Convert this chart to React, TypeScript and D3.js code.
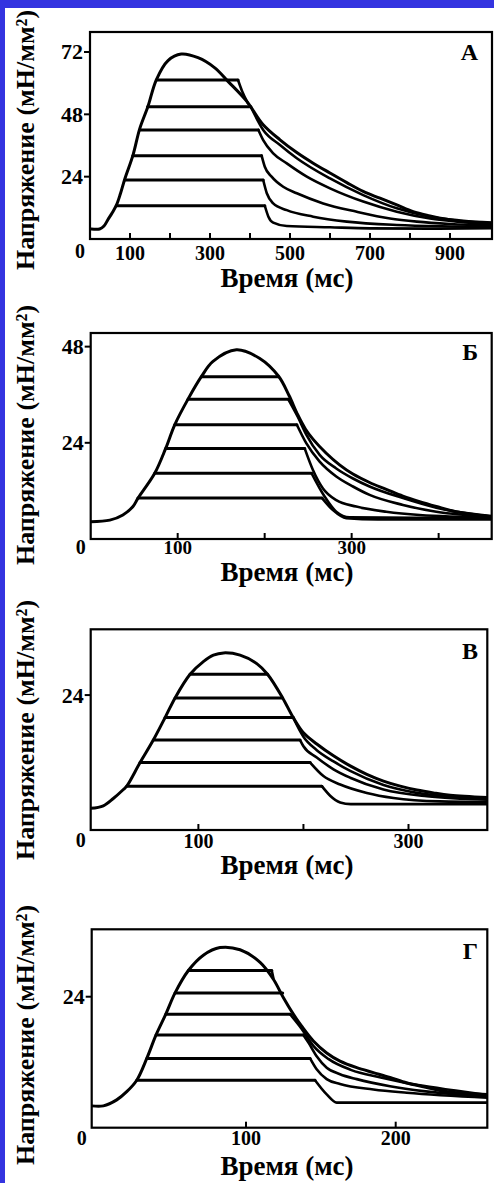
import React from "react";
import * as d3 from "d3";

type Pt = [number, number];

// ---------- Panel А ----------
const envA: Pt[] = [[3, 3.85], [24, 3.85], [35, 5.0], [45, 7.5], [56, 10.2], [66, 13.0], [76, 17.4], [87, 23.1], [107.5, 32.3], [124.2, 42.4], [145, 51.1], [165.8, 61.3], [195, 68.7], [228, 71.2], [270, 69.8], [312, 65.9], [345, 60.7], [392, 53.0], [433, 44.0], [475, 38.2], [517, 33.3], [558, 29.2], [600, 25.4], [642, 21.7], [683, 18.3], [725, 15.7], [767, 13.1], [808, 10.5], [850, 8.9], [892, 7.6], [933, 6.7], [1005, 6.3]];
const levelsA = [12.8, 22.7, 32.1, 42.0, 50.9, 61.2];
const startsA = [66, 87, 107, 124, 144, 166];
const endsA = [437, 433, 429, 421, 402, 370];
const relaxA: Pt[][] = [
  [[446, 8.6], [458, 6.3], [492, 5.0], [600, 4.5], [700, 4.1], [850, 4.0], [1005, 4.2]],
  [[442, 17.6], [458, 13.7], [492, 11.1], [558, 8.6], [642, 6.7], [767, 5.4], [880, 4.9], [1005, 4.7]],
  [[437, 27.8], [454, 24.0], [483, 20.1], [517, 17.6], [583, 13.7], [667, 10.5], [750, 7.9], [817, 6.7], [900, 5.8], [1005, 5.2]],
  [[433, 38.1], [458, 33.0], [492, 29.1], [542, 24.0], [600, 19.5], [683, 14.4], [767, 10.5], [850, 7.9], [933, 6.5], [1005, 5.6]],
  [[433, 42.0], [475, 36.2], [517, 31.1], [600, 23.3], [683, 16.9], [767, 11.8], [850, 8.6], [933, 7.0], [1005, 6.0]],
  [[380, 57.0], [395, 52.2]],
];
const xTicksA = [100, 200, 300, 400, 500, 600, 700, 800, 900];
const xLabelsA = [100, 300, 500, 700, 900];
const yTicksA = [24, 48, 72];

// ---------- Panel Б ----------
const envB: Pt[] = [[0, 4.3], [22, 4.7], [37, 6.0], [48.6, 8.1], [54.4, 10.2], [73.6, 16.4], [86.2, 22.6], [96.6, 28.5], [111.9, 34.9], [127.2, 40.5], [140.6, 44.3], [167.5, 47.2], [194, 45.1], [216, 40.6], [228, 35.8], [238, 31.0], [247, 27.4], [256, 24.8], [270.8, 21.4], [286.1, 18.5], [301.5, 16.2], [320.6, 14.1], [339.8, 12.4], [358.9, 10.7], [378.1, 9.3], [397.3, 8.1], [420.2, 6.8], [461, 5.7]];
const levelsB = [10.2, 16.4, 22.6, 28.5, 34.9, 40.5];
const startsB = [54.4, 73.6, 86.2, 96.6, 111.9, 127.2];
const endsB = [266, 254, 246, 237, 227, 216];
const relaxB: Pt[][] = [
  [[278.5, 7.2], [293.8, 5.2], [330, 4.9], [461, 4.9]],
  [[268.9, 10.6], [282.3, 6.8], [297.6, 5.4], [461, 5.2]],
  [[255.5, 17.2], [267, 12.6], [282.3, 9.7], [305.3, 8.1], [339.8, 6.8], [378.1, 6.0], [461, 5.4]],
  [[247.8, 23.9], [263.2, 19.3], [282.3, 15.6], [301.5, 13.1], [320.6, 11.0], [359, 8.5], [397.3, 6.8], [461, 5.6]],
  [[238, 30.5], [248, 26.0], [263.2, 21.0], [282.3, 17.6], [301.5, 15.1], [320.6, 13.1], [359, 10.2], [397.3, 7.8], [435.6, 6.3], [461, 5.6]],
  [],
];
const xTicksB = [100, 200, 300, 400];
const xLabelsB = [100, 300];
const yTicksB = [24, 48];

// ---------- Panel В ----------
const envC: Pt[] = [[-2.5, 3.85], [9.5, 4.3], [19, 5.6], [28.6, 7.2], [31.8, 7.8], [44.5, 12.0], [57.1, 16.0], [68.3, 20.0], [77.8, 23.5], [92.1, 27.7], [105, 30.0], [114.3, 31.1], [124, 31.5], [139.7, 31.1], [155.6, 29.6], [165.8, 27.7], [180.2, 23.5], [190.3, 20.0], [200, 17.3], [212.7, 15.3], [228.6, 13.2], [244.5, 11.4], [260.3, 9.9], [276.2, 8.7], [292.1, 7.8], [308, 7.1], [323.8, 6.6], [339.7, 6.2], [375, 5.8]];
const levelsC = [7.8, 12.0, 16.0, 20.0, 23.5, 27.7];
const startsC = [31.8, 44.5, 57.1, 68.3, 77.8, 92.1];
const endsC = [217.5, 206.4, 196.8, 190.3, 180.2, 165.8];
const relaxC: Pt[][] = [
  [[225.4, 6.1], [235, 4.9], [245, 4.6], [375, 4.6]],
  [[219, 9.6], [235, 8.1], [260.3, 6.6], [285.7, 5.7], [330, 5.1], [375, 5.0]],
  [[200, 14.9], [212.7, 12.9], [228.6, 10.8], [244.5, 9.3], [276.2, 7.2], [317.5, 6.0], [375, 5.4]],
  [[200, 16.6], [212.7, 14.2], [228.6, 12.2], [244.5, 10.5], [276.2, 8.0], [308, 6.6], [340, 5.9], [375, 5.6]],
  [],
  [],
];
const xTicksC = [100, 200, 300];
const xLabelsC = [100, 300];
const yTicksC = [24];

// ---------- Panel Г ----------
const envD: Pt[] = [[-3.1, 4.0], [4.7, 4.0], [13.6, 5.1], [20.3, 6.6], [27.0, 8.7], [33.7, 12.7], [39.9, 17.0], [46.4, 20.8], [52.6, 24.7], [61.5, 28.8], [71.5, 31.6], [82.6, 33.0], [96, 32.6], [109.4, 30.3], [118.3, 27.2], [125, 23.8], [131.6, 20.8], [137.2, 18.6], [145, 15.9], [153.9, 13.7], [162.8, 12.2], [174, 11.0], [185.1, 10.1], [196.2, 9.2], [207.4, 8.2], [218.5, 7.5], [229.6, 6.8], [240.8, 6.4], [261.2, 6.1]];
const levelsD = [8.7, 12.7, 17.0, 20.8, 24.7, 28.8];
const startsD = [27.0, 33.7, 39.9, 46.4, 52.6, 61.5];
const endsD = [146.1, 142.8, 138.3, 129.4, 124.5, 117.2];
const relaxD: Pt[][] = [
  [[153.9, 6.1], [160.6, 4.6], [261.2, 4.6]],
  [[147.2, 10.7], [153.9, 8.9], [162.8, 8.0], [185.1, 7.0], [207.4, 6.4], [261.2, 5.5]],
  [[141.7, 15.6], [147.2, 13.1], [153.9, 11.0], [162.8, 9.8], [174, 8.9], [196.2, 7.6], [218.5, 6.7], [240.8, 6.1], [261.2, 5.8]],
  [[137.2, 18.1], [145, 15.0], [155, 12.6], [170, 10.6], [190, 9.2], [215, 7.8], [240, 6.8], [261.2, 6.0]],
  [],
  [[118.3, 27.4]],
];
const xTicksD = [100, 200];
const xLabelsD = [100, 200];
const yTicksD = [24];

const letters = ["А", "Б", "В", "Г"];
const yTitle = "Напряжение (мН/мм²)";
const xTitle = "Время (мс)";

// ---------- layout ----------
const W = 494;
const H = 1183;
const FONT = '"Liberation Serif", "Times New Roman", Times, serif';

const panels = [
  { env: envA, levels: levelsA, starts: startsA, ends: endsA, relax: relaxA, xTicks: xTicksA, xLabels: xLabelsA, yTicks: yTicksA, xDomain: [0, 1005], yMax: 79.7, l: 90, t: 32, r: 492, b: 239, letterY: 60, titleY: 140, xTitleY: 287, labDy: 21, labFs: 20, zeroDy: 19 },
  { env: envB, levels: levelsB, starts: startsB, ends: endsB, relax: relaxB, xTicks: xTicksB, xLabels: xLabelsB, yTicks: yTicksB, xDomain: [0, 461], yMax: 51.4, l: 90.7, t: 333, r: 491.7, b: 539, letterY: 360, titleY: 435, xTitleY: 581, labDy: 15, labFs: 19, zeroDy: 15 },
  { env: envC, levels: levelsC, starts: startsC, ends: endsC, relax: relaxC, xTicks: xTicksC, xLabels: xLabelsC, yTicks: yTicksC, xDomain: [-2.5, 375], yMax: 35.7, l: 90.7, t: 629.3, r: 487.3, b: 830, letterY: 659, titleY: 730, xTitleY: 874, labDy: 18, labFs: 20, zeroDy: 17 },
  { env: envD, levels: levelsD, starts: startsD, ends: endsD, relax: relaxD, xTicks: xTicksD, xLabels: xLabelsD, yTicks: yTicksD, xDomain: [-3.1, 261.2], yMax: 36.35, l: 91.7, t: 929.3, r: 487.3, b: 1127.7, letterY: 959, titleY: 1035, xTitleY: 1175, labDy: 17.5, labFs: 20, zeroDy: 17 },
];

function Panel({ p, idx }: { p: (typeof panels)[number]; idx: number }) {
  const x = d3.scaleLinear().domain(p.xDomain).range([p.l, p.r]);
  const y = d3.scaleLinear().domain([0, p.yMax]).range([p.b, p.t]);
  const smooth = d3
    .line<Pt>()
    .x((d) => x(d[0]))
    .y((d) => y(d[1]))
    .curve(d3.curveCatmullRom.alpha(0.5));
  const mono = d3
    .line<Pt>()
    .x((d) => x(d[0]))
    .y((d) => y(d[1]))
    .curve(d3.curveMonotoneX);
  const clipId = `clip${idx}`;
  return (
    <g>
      <defs>
        <clipPath id={clipId}>
          <rect x={p.l} y={p.t} width={p.r - p.l} height={p.b - p.t} />
        </clipPath>
      </defs>
      <g clipPath={`url(#${clipId})`} fill="none" stroke="#000" strokeLinejoin="round" strokeLinecap="round">
        <path d={smooth(p.env) || ""} strokeWidth={3} />
        {p.levels.map((lv, i) => (
          <g key={i}>
            <line x1={x(p.starts[i])} x2={x(p.ends[i])} y1={y(lv)} y2={y(lv)} strokeWidth={3} />
            {p.relax[i].length > 0 && (
              <path d={mono([[p.ends[i], lv] as Pt, ...p.relax[i]]) || ""} strokeWidth={2.6} />
            )}
          </g>
        ))}
      </g>
      <rect x={p.l} y={p.t} width={p.r - p.l} height={p.b - p.t} fill="none" stroke="#000" strokeWidth={2.2} />
      {p.xTicks.map((t) => (
        <line key={t} x1={x(t)} x2={x(t)} y1={p.b} y2={p.b - 6} stroke="#000" strokeWidth={2} />
      ))}
      {p.yTicks.map((t) => (
        <line key={t} x1={p.l - 6} x2={p.l} y1={y(t)} y2={y(t)} stroke="#000" strokeWidth={2} />
      ))}
      <g fontFamily={FONT} fontWeight="bold" fill="#000">
        {p.yTicks.map((t) => (
          <text key={t} x={p.l - 7} y={y(t) + 7.5} textAnchor="end" fontSize={22}>
            {t}
          </text>
        ))}
        {p.xLabels.map((t) => (
          <text key={t} x={x(t)} y={p.b + p.labDy} textAnchor="middle" fontSize={p.labFs}>
            {t}
          </text>
        ))}
        <text x={p.l - 10} y={p.b + p.zeroDy} textAnchor="middle" fontSize={20}>
          0
        </text>
        <text x={478} y={p.letterY} textAnchor="end" fontSize={24}>
          {letters[idx]}
        </text>
        <text x={287} y={p.xTitleY} textAnchor="middle" fontSize={27}>
          {xTitle}
        </text>
        <text transform={`translate(34, ${p.titleY}) rotate(-90)`} textAnchor="middle" fontSize={26}>
          {yTitle}
        </text>
      </g>
    </g>
  );
}

export default function App() {
  return (
    <svg
      width={W}
      height={H}
      viewBox={`0 0 ${W} ${H}`}
      style={{ position: "absolute", left: 0, top: 0, display: "block" }}
    >
      <rect x={0} y={0} width={W} height={H} fill="#3434E0" />
      <rect x={5} y={8} width={W - 5} height={H - 8} fill="#ffffff" />
      {panels.map((p, i) => (
        <Panel key={i} p={p} idx={i} />
      ))}
    </svg>
  );
}
